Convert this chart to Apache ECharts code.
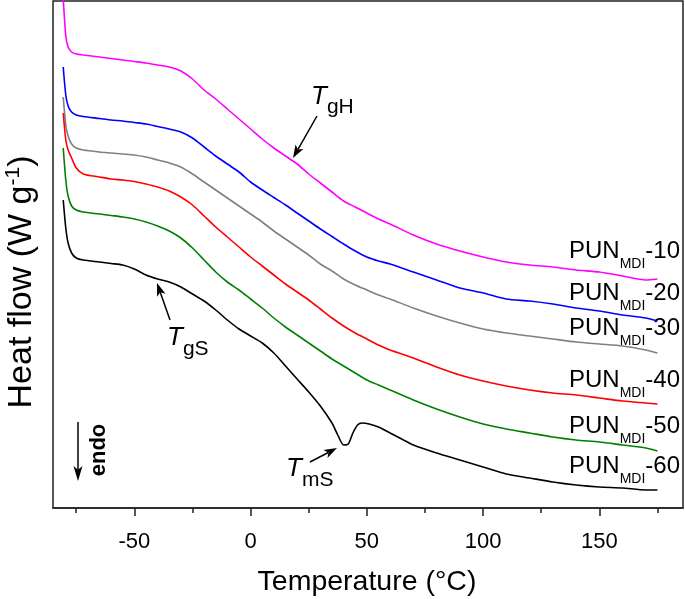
<!DOCTYPE html>
<html>
<head>
<meta charset="utf-8">
<script src="https://cdn.jsdelivr.net/npm/echarts@6/dist/echarts.min.js"></script>
<style>html,body{margin:0;padding:0;background:#fff}#c{width:685px;height:599px}</style>
</head>
<body>
<div id="c"></div>
<script>
// Temperature axis (°C)
const xMin = -85, xMax = 186;
const majorTicks = [-50, 0, 50, 100, 150];
const minorTicks = [-75, -25, 25, 75, 125, 175];
// Shared temperature samples (°C)
const temps = [-80.6,-79.5,-78.5,-77,-75,-72,-65,-60,-55,-50,-45,-40,-35,-30,-25,-20,-15,-10,-5,0,5,10,15,20,25,30,35,40,45,50,55,60,70,80,90,100,110,120,130,140,150,160,170,175];
// Heat flow (arbitrary offset units) at the temperatures above
const pun10 = [5.10,4.72,4.61,4.56,4.54,4.53,4.51,4.495,4.48,4.465,4.45,4.43,4.41,4.37,4.29,4.18,4.09,3.99,3.89,3.79,3.69,3.60,3.52,3.44,3.34,3.25,3.16,3.07,3.01,2.95,2.89,2.84,2.73,2.64,2.57,2.51,2.46,2.43,2.41,2.38,2.36,2.32,2.28,2.29];
const pun20 = [4.41,4.13,4.02,3.96,3.93,3.915,3.895,3.88,3.87,3.855,3.84,3.815,3.79,3.76,3.70,3.61,3.52,3.44,3.36,3.26,3.18,3.105,3.03,2.95,2.87,2.79,2.715,2.64,2.57,2.51,2.47,2.44,2.36,2.28,2.20,2.15,2.09,2.07,2.04,2.00,1.97,1.93,1.90,1.87];
const pun30 = [4.11,3.83,3.72,3.64,3.60,3.58,3.56,3.55,3.54,3.53,3.51,3.48,3.45,3.41,3.34,3.26,3.18,3.10,3.02,2.94,2.86,2.77,2.69,2.61,2.53,2.44,2.37,2.29,2.23,2.18,2.13,2.09,2.00,1.92,1.85,1.79,1.75,1.72,1.69,1.66,1.64,1.62,1.58,1.55];
const pun40 = [3.95,3.68,3.58,3.50,3.40,3.34,3.31,3.29,3.28,3.265,3.24,3.21,3.17,3.11,3.03,2.92,2.81,2.71,2.61,2.51,2.42,2.33,2.24,2.16,2.08,1.99,1.90,1.82,1.75,1.69,1.63,1.58,1.50,1.41,1.33,1.27,1.22,1.18,1.15,1.13,1.10,1.07,1.05,1.04];
const pun50 = [3.60,3.28,3.12,3.02,2.98,2.96,2.94,2.925,2.91,2.89,2.86,2.82,2.77,2.70,2.60,2.48,2.36,2.26,2.18,2.09,2.00,1.90,1.81,1.73,1.65,1.57,1.49,1.42,1.35,1.28,1.23,1.18,1.08,0.99,0.91,0.84,0.79,0.75,0.71,0.68,0.66,0.63,0.60,0.57];
// PUN-60 has the melting endotherm, so it is sampled more densely near 40 °C
const temps60 = [-80.6,-79.5,-78.5,-77,-75,-72,-65,-60,-55,-50,-45,-40,-35,-30,-25,-20,-15,-10,-5,0,5,10,15,20,25,30,35,37.5,40,42,44,46,48,51,55,60,65,70,80,90,100,110,120,130,140,150,160,170,175];
const pun60 = [3.08,2.80,2.65,2.55,2.50,2.48,2.46,2.445,2.43,2.39,2.33,2.29,2.26,2.21,2.14,2.07,1.98,1.88,1.79,1.72,1.65,1.55,1.42,1.29,1.16,1.02,0.85,0.73,0.63,0.64,0.75,0.83,0.85,0.84,0.81,0.75,0.69,0.63,0.55,0.48,0.41,0.34,0.30,0.26,0.23,0.21,0.20,0.18,0.18];
const seriesNames = ['PUN-10','PUN-20','PUN-30','PUN-40','PUN-50','PUN-60'];
const labelSuffix = ['-10','-20','-30','-40','-50','-60'];

const FONT = '"Liberation Sans", Arial, Helvetica, sans-serif';
const colors = ['#ff00ff','#0000ff','#808080','#ff0000','#008000','#000000'];
const pair = (xs, ys) => ys.map((v, i) => [xs[i], v]);
const allData = [pair(temps, pun10), pair(temps, pun20), pair(temps, pun30), pair(temps, pun40), pair(temps, pun50), pair(temps60, pun60)];

function arrow(x1, y1, x2, y2, len, hw) {
  const dx = x2 - x1, dy = y2 - y1, d = Math.hypot(dx, dy);
  const ux = dx / d, uy = dy / d, nx = -uy, ny = ux;
  const bx = x2 - ux * len, by = y2 - uy * len;
  const nb = 0.75;
  return [
    { type: 'line', shape: { x1: x1, y1: y1, x2: x2 - ux * len * nb, y2: y2 - uy * len * nb }, style: { stroke: '#000', lineWidth: 1.5 } },
    { type: 'polygon', shape: { points: [[x2, y2], [bx + nx * hw, by + ny * hw], [x2 - ux * len * nb, y2 - uy * len * nb], [bx - nx * hw, by - ny * hw]] }, style: { fill: '#000' } }
  ];
}

function subLabel(x, y, main, sub, tail, fsMain, fsSub, pad, italic, align) {
  return {
    type: 'text', x: x, y: y,
    style: {
      text: '{a|' + main + '}{b|' + sub + '}' + (tail ? '{c|' + tail + '}' : ''),
      rich: {
        a: { fontSize: fsMain, fontFamily: FONT, fontStyle: italic ? 'italic' : 'normal', fill: '#000' },
        b: { fontSize: fsSub, fontFamily: FONT, fill: '#000', padding: [pad, 0, 0, 0] },
        c: { fontSize: fsMain, fontFamily: FONT, fill: '#000' }
      },
      align: align || 'left', verticalAlign: 'middle'
    }
  };
}

const labelY = [251, 293, 328, 380, 426, 466];
const graphics = [];
labelY.forEach((y, i) => graphics.push(subLabel(680, y, 'PUN', 'MDI', labelSuffix[i], 24, 14, 27, false, 'right')));
graphics.push(subLabel(311, 97, 'T', 'gH', '', 26, 21, 21, true));
graphics.push(subLabel(167, 338, 'T', 'gS', '', 26, 21, 22, true));
graphics.push(subLabel(286, 469, 'T', 'mS', '', 26, 21, 22, true));
arrow(317, 116, 293, 158, 13, 4.5).forEach(g => graphics.push(g));
arrow(170, 320, 157, 283, 13, 4.5).forEach(g => graphics.push(g));
arrow(310, 462, 337, 448, 13, 4.5).forEach(g => graphics.push(g));
arrow(78, 422, 78, 481, 15, 4.5).forEach(g => graphics.push(g));
graphics.push({ type: 'text', x: 99, y: 450, rotation: Math.PI / 2,
  style: { text: 'endo', fontSize: 22, fontWeight: 'bold', fontFamily: FONT, fill: '#000', align: 'center', verticalAlign: 'middle' } });
graphics.push({ type: 'text', x: 22, y: 282, rotation: Math.PI / 2,
  style: { text: '{a|Heat flow (W g}{s|-1}{a|)}', rich: {
    a: { fontSize: 34, fontFamily: FONT, fill: '#000' },
    s: { fontSize: 21, fontFamily: FONT, fill: '#000', padding: [0, 0, 17, 0] } },
    align: 'center', verticalAlign: 'middle' } });
graphics.push({ type: 'text', x: 367, y: 582,
  style: { text: 'Temperature (°C)', fontSize: 28.5, fontFamily: FONT, fill: '#000', align: 'center', verticalAlign: 'middle' } });

const option = {
  animation: false,
  backgroundColor: '#fff',
  grid: { left: 53, right: 2, top: 1, bottom: 91, show: true, borderColor: '#222', borderWidth: 1.5, backgroundColor: 'transparent' },
  xAxis: [
    { type: 'value', min: xMin, max: xMax, position: 'bottom',
      axisLine: { show: true, lineStyle: { color: '#222', width: 1.5 } },
      axisTick: { show: true, length: 8, lineStyle: { color: '#222', width: 1.5 }, customValues: majorTicks },
      axisLabel: { show: true, margin: 23, fontSize: 22, fontFamily: FONT, color: '#000', customValues: majorTicks },
      splitLine: { show: false } },
    { type: 'value', min: xMin, max: xMax, position: 'bottom',
      axisLine: { show: false },
      axisTick: { show: true, length: 5, lineStyle: { color: '#222', width: 1.5 }, customValues: minorTicks },
      axisLabel: { show: false },
      splitLine: { show: false } }
  ],
  yAxis: { type: 'value', min: 0, max: 5.07, axisLine: { show: false }, axisTick: { show: false }, axisLabel: { show: false }, splitLine: { show: false } },
  series: allData.map((d, i) => ({
    name: seriesNames[i], type: 'line', data: d, xAxisIndex: 0, showSymbol: false, smooth: 0.25,
    lineStyle: { color: colors[i], width: 1.6 }, clip: true
  })),
  graphic: graphics
};
const chart = echarts.init(document.getElementById('c'), null, { renderer: 'canvas' });
chart.setOption(option);
</script>
</body>
</html>
